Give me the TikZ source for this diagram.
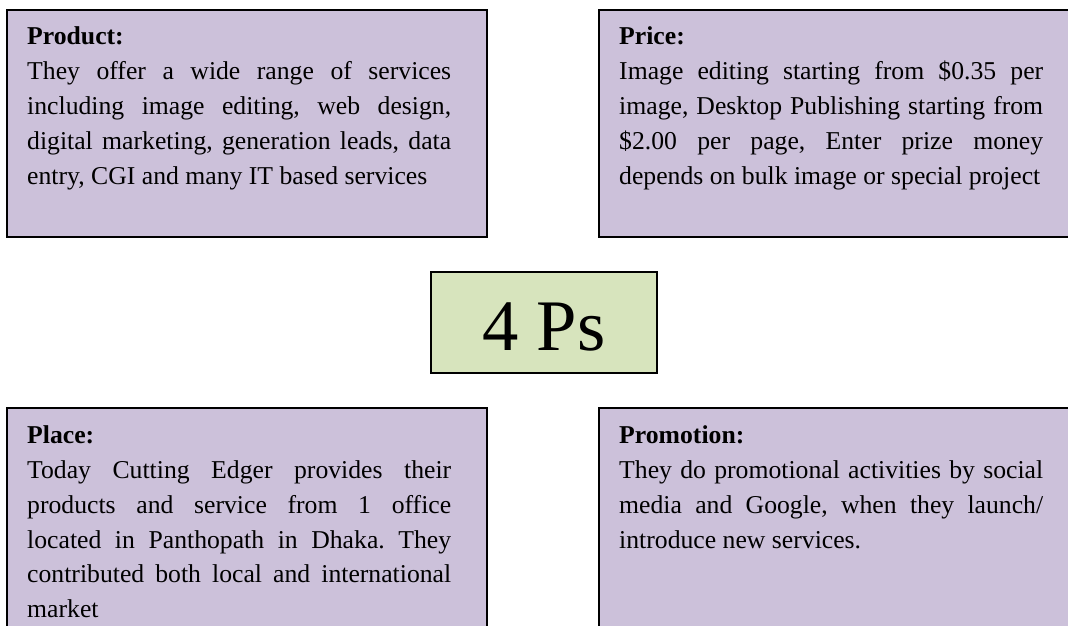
\documentclass[tikz,border=0pt]{standalone}
\usepackage{fontspec}
\setmainfont{Liberation Serif}
\usetikzlibrary{positioning}
\definecolor{mixlilac}{RGB}{204,193,218}
\definecolor{mixolive}{RGB}{215,228,189}
\frenchspacing
% heading of a box text (also gives back the font's own word spaces)
\newcommand{\boxhead}[1]{\spaceskip=0pt\xspaceskip=0pt\relax\textbf{#1}\\}
% one justified line of a box text
\newcommand{\fullline}[1]{\makebox[424pt][s]{#1}\\}

\begin{document}
\begin{tikzpicture}[x=1pt, y=-1pt,
  pbox/.style={draw=black, line width=1.5pt, fill=mixlilac, anchor=north west,
    minimum width=480pt, minimum height=227pt, inner sep=0pt},
  ptext/.style={anchor=base west, inner sep=0pt, text width=424pt, align=left,
    font=\fontsize{25.7}{34.9}\selectfont},
  hubbox/.style={draw=black, line width=1.5pt, fill=mixolive, minimum width=226pt,
    minimum height=101pt, inner sep=0pt, text height=56pt, text depth=0pt,
    font=\fontsize{72.6}{80}\selectfont}
]
\useasboundingbox (0,0) rectangle (1068,625);
\clip (0,0) rectangle (1068,625);

\node[pbox] (product) at (6,9) {};
\node[pbox] (price) at (598,9) {};
\node[pbox] (place) at (6,407) {};
\node[pbox] (promotion) at (598,407) {};
\node[hubbox] (fourps) at (544,322.5) {4 Ps};

\node[ptext] (producttxt) at ([xshift=21pt,yshift=-35.5pt]product.north west) {%
  \boxhead{Product:}
  \fullline{They offer a wide range of services}
  \fullline{including image editing, web design,}
  \fullline{digital marketing, generation leads, data}
  entry, CGI and many IT based services};

\node[ptext] (pricetxt) at ([xshift=21pt,yshift=-35.5pt]price.north west) {%
  \boxhead{Price:}
  \fullline{Image editing starting from \$0.35 per}
  \fullline{image, Desktop Publishing starting from}
  \fullline{\$2.00 per page, Enter prize money}
  depends on bulk image or special project};

\node[ptext] (placetxt) at ([xshift=21pt,yshift=-36.3pt]place.north west) {%
  \boxhead{Place:}
  \fullline{Today Cutting Edger provides their}
  \fullline{products and service from 1 office}
  \fullline{located in Panthopath in Dhaka. They}
  \fullline{contributed both local and international}
  market};

\node[ptext] (promotiontxt) at ([xshift=21pt,yshift=-36.3pt]promotion.north west) {%
  \boxhead{Promotion:}
  \fullline{They do promotional activities by social}
  \fullline{media and Google, when they launch/}
  introduce new services.};
\end{tikzpicture}
\end{document}
